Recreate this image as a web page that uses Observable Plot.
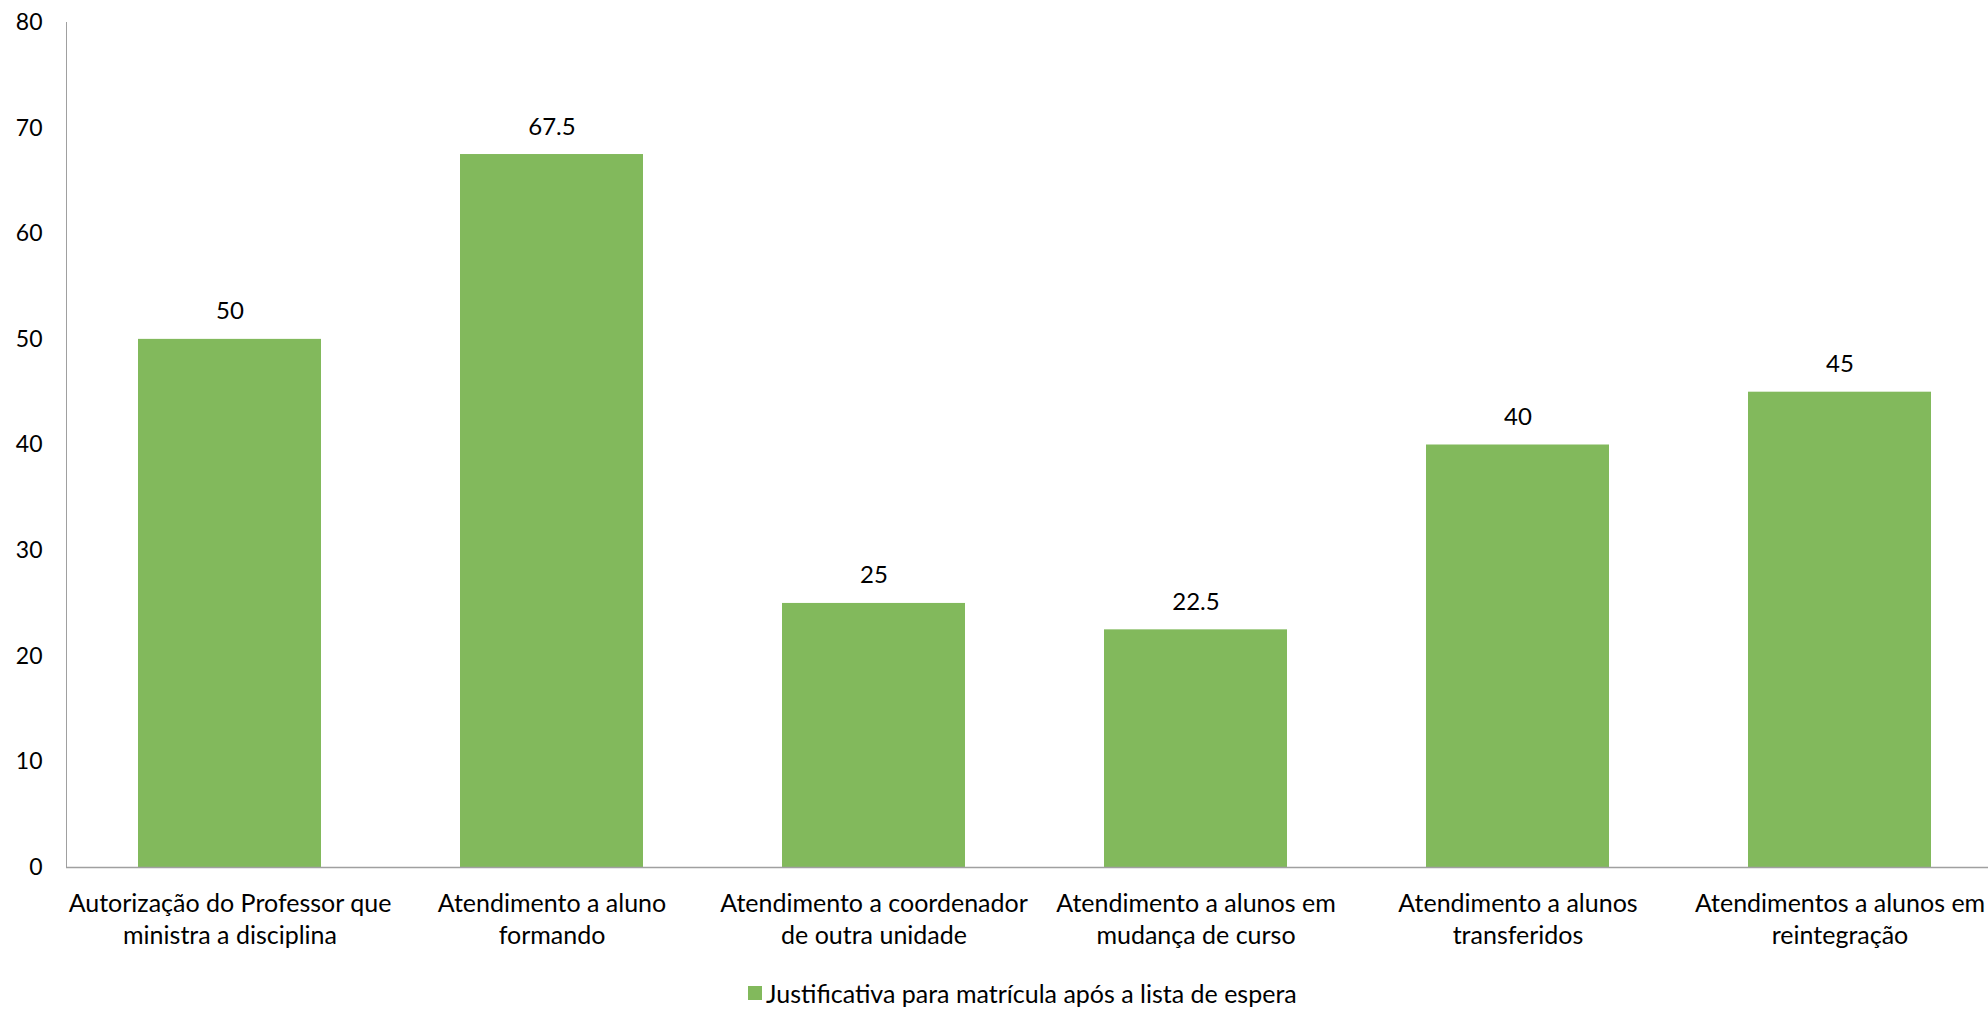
<!DOCTYPE html>
<html>
<head>
<meta charset="utf-8">
<script src="https://cdn.jsdelivr.net/npm/d3@7"></script>
<script src="https://cdn.jsdelivr.net/npm/@observablehq/plot@0.6"></script>
<style>
  html, body { margin: 0; padding: 0; background: #fff; overflow: hidden; }
  #chart svg { display: block; }
  #legend { font-family: Lato, sans-serif; font-size: 25px; color: #000; height: 40px; position: relative; }
  #legend .item { position: absolute; left: 748px; top: 8px; display: flex; align-items: center; white-space: nowrap; }
  #legend .swatch { width: 14px; height: 14px; background: #82B95C; margin-right: 4px; }
</style>
</head>
<body>
<div id="chart"></div>
<div id="legend"><div class="item"><span class="swatch"></span><span id="legendText"></span></div></div>
<script>
const categories = [
  "Autorização do Professor que ministra a disciplina",
  "Atendimento a aluno formando",
  "Atendimento a coordenador de outra unidade",
  "Atendimento a alunos em mudança de curso",
  "Atendimento a alunos transferidos",
  "Atendimentos a alunos em reintegração"
];
const tickLabels = [
  "Autorização do Professor que\nministra a disciplina",
  "Atendimento a aluno\nformando",
  "Atendimento a coordenador\nde outra unidade",
  "Atendimento a alunos em\nmudança de curso",
  "Atendimento a alunos\ntransferidos",
  "Atendimentos a alunos em\nreintegração"
];
const values = [50, 67.5, 25, 22.5, 40, 45];
const yTicks = [0, 10, 20, 30, 40, 50, 60, 70, 80];
const seriesName = "Justificativa para matrícula após a lista de espera";

const data = categories.map((c, i) => ({category: c, value: values[i]}));
const labelOf = new Map(categories.map((c, i) => [c, tickLabels[i]]));

const green = "#82B95C";
const axisGray = "#a0a0a0";

const chart = Plot.plot({
  width: 1988,
  height: 970,
  marginLeft: 66,
  marginRight: 0,
  marginTop: 22,
  marginBottom: 103,
  style: {fontFamily: "Lato, sans-serif", color: "#000", background: "#fff"},
  x: {domain: categories, range: [66, 2002.7], paddingInner: 0.433, paddingOuter: 0.2165, label: null},
  y: {domain: [0, 80], label: null},
  marks: [
    Plot.barY(data, {x: "category", y: "value", fill: green}),
    Plot.text(data, {x: "category", y: "value", text: d => String(d.value), lineAnchor: "bottom", dy: -20, fontSize: 24, fill: "#000"}),
    Plot.frame({anchor: "left", stroke: axisGray}),
    Plot.ruleY([0], {stroke: axisGray, strokeWidth: 1.3}),
    Plot.axisY({ticks: yTicks, tickSize: 0, tickPadding: 24, fontSize: 23, label: null}),
    Plot.axisX({tickSize: 0, tickPadding: 22, fontSize: 25, lineHeight: 1.28, tickFormat: c => labelOf.get(c), label: null})
  ]
});
document.getElementById("chart").appendChild(chart);
document.getElementById("legendText").textContent = seriesName;
</script>
</body>
</html>
